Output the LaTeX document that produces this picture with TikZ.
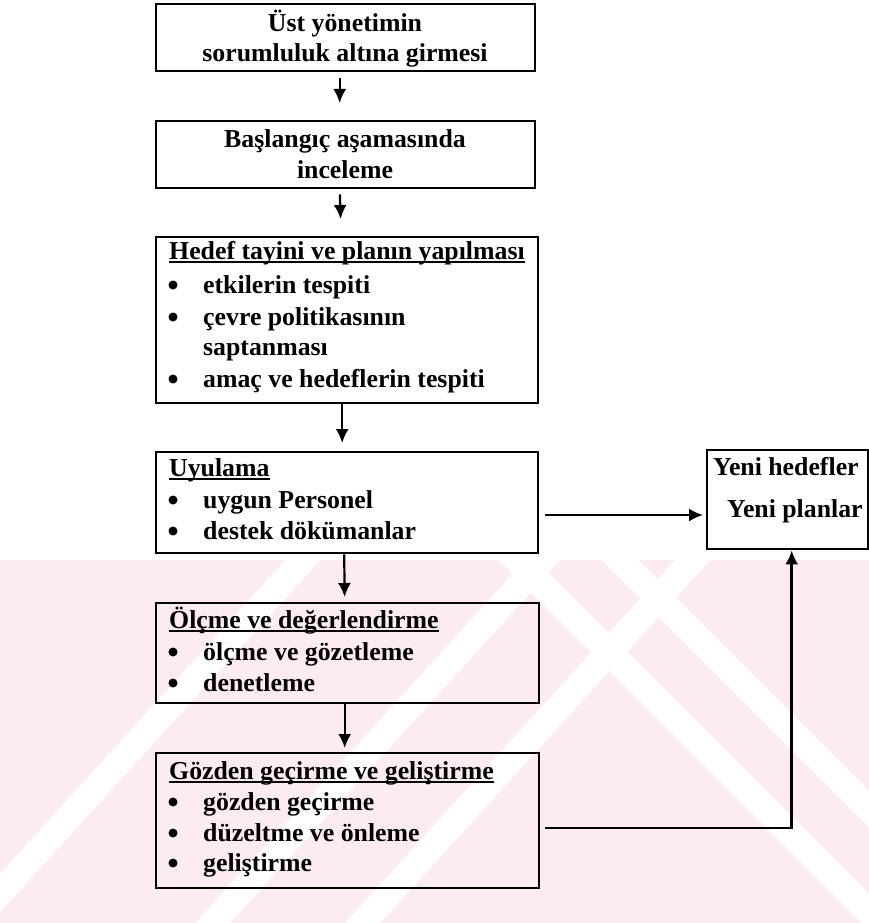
\documentclass[tikz,border=0pt]{standalone}
\usepackage{fontspec}
\setmainfont{Liberation Serif}
\usetikzlibrary{arrows.meta}

\definecolor{wmpink}{RGB}{252,236,240}

\tikzset{
  box/.style={draw, line width=2.4pt, anchor=north west, inner sep=0pt},
  txt/.style={anchor=base west, inner sep=0pt, font=\fontsize{25.8}{31}\selectfont\bfseries},
  ctxt/.style={txt, anchor=base},
  flow/.style={line width=2.2pt, -{Latex[length=14pt,width=13pt]}},
  uline/.style={line width=1.3pt},
}

\begin{document}
\begin{tikzpicture}[x=1pt,y=-1pt]
    \useasboundingbox (0,0) rectangle (869,923);

    % watermark in the lower part
    \begin{scope}
      \clip (0,560) rectangle (869,923);
      \fill[wmpink] (0,560) rectangle (869,923);
      \foreach \x in {200,440,590} {
        \draw[white, line width=26pt] (\x-300,1003) -- (\x+300,343);
      }
      \foreach \x in {737,840} {
        \draw[white, line width=26pt] (\x-300,480) -- (\x+300,1080);
      }
    \end{scope}

    % boxes
    \node[box, minimum width=379pt, minimum height=67pt]  (b1) at (155,3) {};
    \node[box, minimum width=379pt, minimum height=67pt]  (b2) at (155,120) {};
    \node[box, minimum width=382pt, minimum height=166pt] (b3) at (155,236) {};
    \node[box, minimum width=382pt, minimum height=101pt] (b4) at (155,451) {};
    \node[box, minimum width=383pt, minimum height=100pt] (b5) at (155,602) {};
    \node[box, minimum width=383pt, minimum height=135pt] (b6) at (155,752) {};
    \node[box, minimum width=161pt, minimum height=99pt]  (yeni) at (706,449) {};

    % texts
    \node[ctxt] (t1a) at (345,32)  {Üst yönetimin};
    \node[ctxt] (t1b) at (345,62)  {sorumluluk altına girmesi};
    \node[ctxt] (t2a) at (345,147) {Başlangıç aşamasında};
    \node[ctxt] (t2b) at (345,178) {inceleme};

    \node[txt] (h3) at (169,259) {Hedef tayini ve planın yapılması};
    \draw[uline] ([yshift=-3pt]h3.base west) -- ([yshift=-3pt]h3.base east);
    \foreach \n/\y/\t in {a/293/etkilerin tespiti, b/325/çevre politikasının, d/387/amaç ve hedeflerin tespiti} {
      \fill (173,\y-8) circle (4.5pt);
      \node[txt] (i3\n) at (203,\y) {\t};
    }
    \node[txt] (i3c) at (203,355) {saptanması};

    \node[txt] (h4) at (169,476) {Uyulama};
    \draw[uline] ([yshift=-3pt]h4.base west) -- ([yshift=-3pt]h4.base east);
    \foreach \n/\y/\t in {a/508/uygun Personel, b/539/destek dökümanlar} {
      \fill (173,\y-8) circle (4.5pt);
      \node[txt] (i4\n) at (203,\y) {\t};
    }

    \node[txt] (h5) at (169,628) {Ölçme ve değerlendirme};
    \draw[uline] ([yshift=-3pt]h5.base west) -- ([yshift=-3pt]h5.base east);
    \foreach \n/\y/\t in {a/660/ölçme ve gözetleme, b/691/denetleme} {
      \fill (173,\y-8) circle (4.5pt);
      \node[txt] (i5\n) at (203,\y) {\t};
    }

    \node[txt] (h6) at (169,779) {Gözden geçirme ve geliştirme};
    \draw[uline] ([yshift=-3pt]h6.base west) -- ([yshift=-3pt]h6.base east);
    \foreach \n/\y/\t in {a/810/gözden geçirme, b/841/düzeltme ve önleme, c/871/geliştirme} {
      \fill (173,\y-8) circle (4.5pt);
      \node[txt] (i6\n) at (203,\y) {\t};
    }

    \node[txt] (y1) at (713,475) {Yeni hedefler};
    \node[txt] (y2) at (727,517) {Yeni planlar};

    % arrows
    \draw[flow, shorten <=6pt, shorten >=17pt] ([xshift=-6pt]b1.south) -- ([xshift=-6pt]b2.north);
    \draw[flow, shorten <=5pt, shorten >=17pt] ([xshift=-6pt]b2.south) -- ([xshift=-6pt]b3.north);
    \draw[flow, shorten >=8pt] ([xshift=-5pt]b3.south) -- ([xshift=-5pt]b4.north);
    \draw[flow, shorten >=5pt] ([xshift=-3pt]b4.south) -- ([xshift=-3pt]b5.north);
    \draw[flow, shorten >=4pt] ([xshift=-3pt]b5.south) -- ([xshift=-3pt]b6.north);

    \coordinate (p1) at (545,515);
    \draw[flow, shorten >=3pt] (p1) -- (p1 -| yeni.west);
    \coordinate (p2) at (545,828);
    \draw[flow, line width=2.6pt] (p2) -| ([xshift=4pt]yeni.south);
\end{tikzpicture}
\end{document}
